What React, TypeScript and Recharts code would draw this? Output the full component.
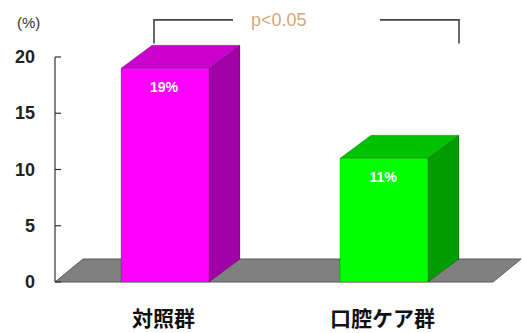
import React from 'react';
import { BarChart, Bar, XAxis, YAxis, ReferenceLine } from 'recharts';

const categories = ['対照群', '口腔ケア群'];
const values = [19, 11];
const valueLabels = ['19%', '11%'];
const yTicks = [0, 5, 10, 15, 20];
const pText = 'p<0.05';
const bracketLevel = 23.3;
const bracketEnd = 21.2;

const frontColors = ['#ff00ff', '#00ff00'];
const sideColors = ['#a000a6', '#009c00'];
const topColors = ['#cc00cc', '#00c200'];

const data = categories.map((c, i) => ({ name: c, value: values[i], label: valueLabels[i] }));

const DX = 31;
const DY = -23;
const FLOOR_DX = 28;
const NUM_FONT = '"Liberation Sans", Arial, sans-serif';
const CJK_FONT = '"Noto Sans CJK JP", "Noto Sans", sans-serif';

const BoxShape = (props: any) => {
  const { x, y, width, height, index, value } = props;
  const w = width;
  const h = height;
  const base = y + h;
  const ppu = value ? h / value : 0;
  const yLevel = base - bracketLevel * ppu;
  const yEnd = base - bracketEnd * ppu;
  const edge = 'rgba(0,0,0,0.35)';
  const parts: any[] = [];
  parts.push(
    <polygon key="side" points={`${x + w},${y} ${x + w + DX},${y + DY} ${x + w + DX},${base + DY} ${x + w},${base}`} fill={sideColors[index]} stroke={edge} strokeWidth={0.6} />
  );
  parts.push(
    <polygon key="top" points={`${x},${y} ${x + DX},${y + DY} ${x + w + DX},${y + DY} ${x + w},${y}`} fill={topColors[index]} stroke={edge} strokeWidth={0.6} />
  );
  parts.push(<rect key="front" x={x} y={y} width={w} height={h} fill={frontColors[index]} stroke={edge} strokeWidth={0.6} />);
  parts.push(
    <text key="val" x={x + w / 2 - 1} y={y + 24} textAnchor="middle" fill="#ffffff" fontFamily={NUM_FONT} fontWeight="bold" fontSize={14}>
      {valueLabels[index]}
    </text>
  );
  if (index === 0) {
    const bx = x + DX + 2;
    parts.push(<polyline key="br" points={`${bx},${yEnd} ${bx},${yLevel} ${bx + 79},${yLevel}`} fill="none" stroke="#444" strokeWidth={1.6} />);
    parts.push(
      <text key="p" x={bx + 97} y={yLevel + 6} fill="#d7a77a" fontFamily={NUM_FONT} fontSize={18}>
        {pText}
      </text>
    );
  } else {
    const bx = x + w + DX;
    parts.push(<polyline key="br" points={`${bx - 79},${yLevel} ${bx},${yLevel} ${bx},${yEnd}`} fill="none" stroke="#444" strokeWidth={1.6} />);
  }
  return <g>{parts}</g>;
};

const Floor = (props: any) => {
  const { x1, y1, x2 } = props;
  return (
    <polygon
      points={`${x1},${y1} ${x2},${y1} ${x2 + FLOOR_DX},${y1 + DY} ${x1 + FLOOR_DX},${y1 + DY}`}
      fill="#808080"
      stroke="#5a5a5a"
      strokeWidth={1}
    />
  );
};

const YTick = (props: any) => {
  const { x, y, payload } = props;
  return (
    <g>
      <line x1={x} y1={y} x2={x + 6} y2={y} stroke="#333" strokeWidth={1.2} />
      <text x={x - 20} y={y + 6} textAnchor="end" fill="#222" fontFamily={NUM_FONT} fontWeight="bold" fontSize={18}>
        {payload.value}
      </text>
    </g>
  );
};

const XTick = (props: any) => {
  const { x, y, payload } = props;
  return (
    <text x={x - 1} y={y + 44} textAnchor="middle" fill="#111" fontFamily={CJK_FONT} fontWeight="bold" fontSize={21}>
      {payload.value}
    </text>
  );
};

export default function App() {
  return (
    <div style={{ position: 'absolute', left: 0, top: 0, background: '#fff' }}>
      <BarChart width={522} height={333} data={data} margin={{ top: 57, right: 29, bottom: 0, left: 0 }} barSize={88}>
        <ReferenceLine y={0} shape={Floor} zIndex={-50} ifOverflow="visible" />
        <XAxis dataKey="name" axisLine={false} tickLine={false} tickSize={0} tickMargin={0} height={51} tick={XTick} interval={0} />
        <YAxis
          domain={[0, 20]}
          ticks={yTicks}
          width={55}
          axisLine={{ stroke: '#333', strokeWidth: 1.2 }}
          tickLine={false}
          tickSize={0}
          tickMargin={0}
          tick={YTick}
          label={{
            content: () => (
              <text x={17} y={28} fill="#333" fontFamily={NUM_FONT} fontSize={15}>
                (%)
              </text>
            ),
          }}
        />
        <Bar dataKey="value" shape={BoxShape} isAnimationActive={false} />
      </BarChart>
    </div>
  );
}
